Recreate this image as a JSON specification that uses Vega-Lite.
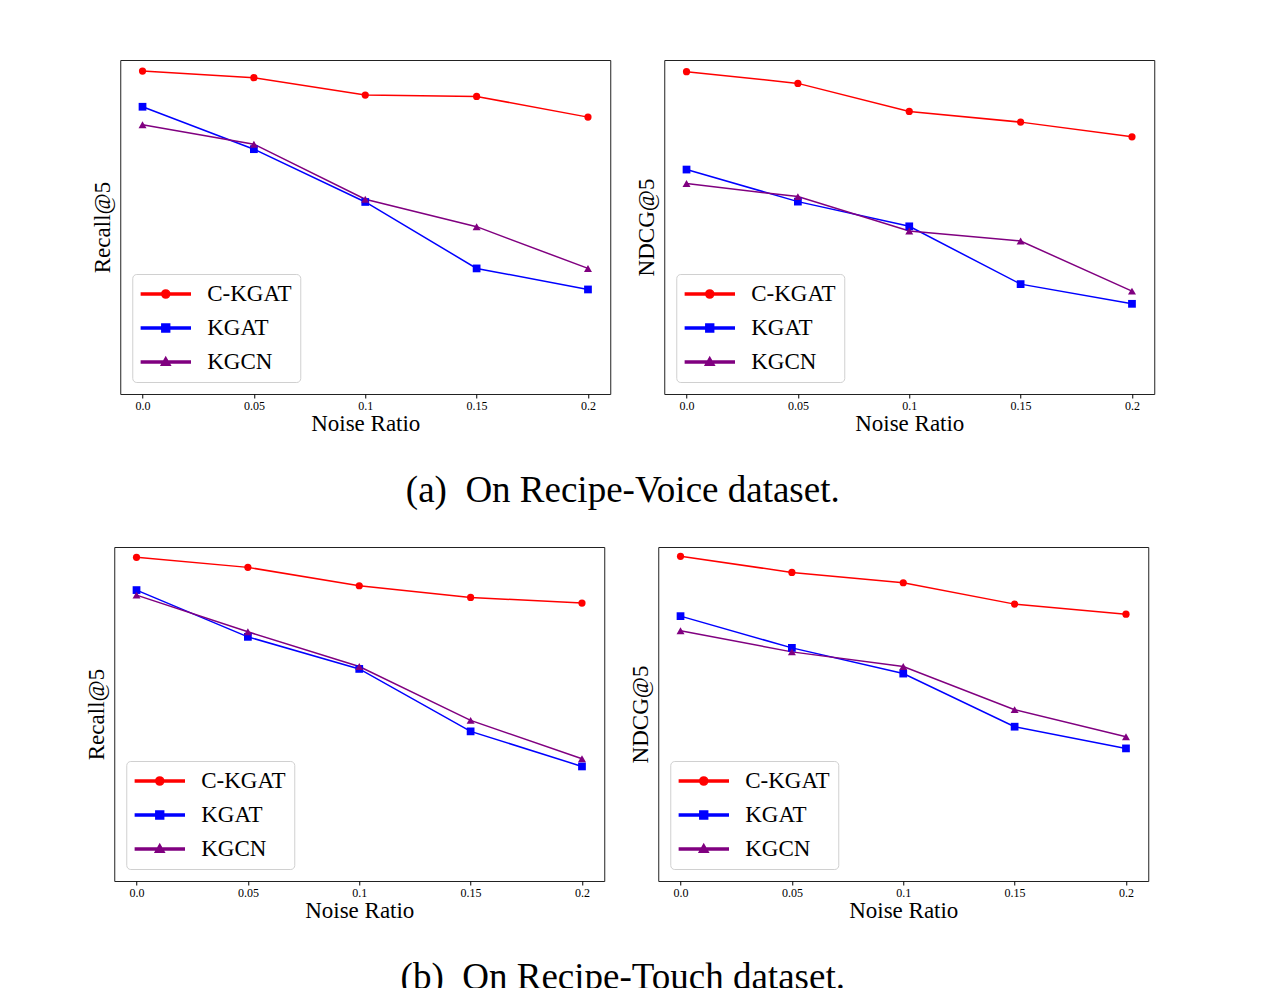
{
  "$schema": "https://vega.github.io/schema/vega-lite/v6.json",
  "background": "white",
  "padding": {"left": 84, "top": 59, "right": 20, "bottom": 0},
  "datasets": {
    "scores": [
      {"panel": "a1", "model": "C-KGAT", "ratio": 0.0, "score": 96.7},
      {"panel": "a1", "model": "C-KGAT", "ratio": 0.05, "score": 94.7},
      {"panel": "a1", "model": "C-KGAT", "ratio": 0.1, "score": 89.5},
      {"panel": "a1", "model": "C-KGAT", "ratio": 0.15, "score": 89.1},
      {"panel": "a1", "model": "C-KGAT", "ratio": 0.2, "score": 82.9},
      {"panel": "a1", "model": "KGAT", "ratio": 0.0, "score": 86.0},
      {"panel": "a1", "model": "KGAT", "ratio": 0.05, "score": 73.3},
      {"panel": "a1", "model": "KGAT", "ratio": 0.1, "score": 57.5},
      {"panel": "a1", "model": "KGAT", "ratio": 0.15, "score": 37.6},
      {"panel": "a1", "model": "KGAT", "ratio": 0.2, "score": 31.3},
      {"panel": "a1", "model": "KGCN", "ratio": 0.0, "score": 80.6},
      {"panel": "a1", "model": "KGCN", "ratio": 0.05, "score": 74.8},
      {"panel": "a1", "model": "KGCN", "ratio": 0.1, "score": 58.3},
      {"panel": "a1", "model": "KGCN", "ratio": 0.15, "score": 50.1},
      {"panel": "a1", "model": "KGCN", "ratio": 0.2, "score": 37.6},
      {"panel": "a2", "model": "C-KGAT", "ratio": 0.0, "score": 96.5},
      {"panel": "a2", "model": "C-KGAT", "ratio": 0.05, "score": 93.0},
      {"panel": "a2", "model": "C-KGAT", "ratio": 0.1, "score": 84.6},
      {"panel": "a2", "model": "C-KGAT", "ratio": 0.15, "score": 81.4},
      {"panel": "a2", "model": "C-KGAT", "ratio": 0.2, "score": 77.0},
      {"panel": "a2", "model": "KGAT", "ratio": 0.0, "score": 67.2},
      {"panel": "a2", "model": "KGAT", "ratio": 0.05, "score": 57.6},
      {"panel": "a2", "model": "KGAT", "ratio": 0.1, "score": 50.2},
      {"panel": "a2", "model": "KGAT", "ratio": 0.15, "score": 32.9},
      {"panel": "a2", "model": "KGAT", "ratio": 0.2, "score": 27.0},
      {"panel": "a2", "model": "KGCN", "ratio": 0.0, "score": 63.0},
      {"panel": "a2", "model": "KGCN", "ratio": 0.05, "score": 59.1},
      {"panel": "a2", "model": "KGCN", "ratio": 0.1, "score": 48.8},
      {"panel": "a2", "model": "KGCN", "ratio": 0.15, "score": 45.8},
      {"panel": "a2", "model": "KGCN", "ratio": 0.2, "score": 30.8},
      {"panel": "b1", "model": "C-KGAT", "ratio": 0.0, "score": 96.9},
      {"panel": "b1", "model": "C-KGAT", "ratio": 0.05, "score": 93.9},
      {"panel": "b1", "model": "C-KGAT", "ratio": 0.1, "score": 88.4},
      {"panel": "b1", "model": "C-KGAT", "ratio": 0.15, "score": 84.9},
      {"panel": "b1", "model": "C-KGAT", "ratio": 0.2, "score": 83.2},
      {"panel": "b1", "model": "KGAT", "ratio": 0.0, "score": 87.1},
      {"panel": "b1", "model": "KGAT", "ratio": 0.05, "score": 73.1},
      {"panel": "b1", "model": "KGAT", "ratio": 0.1, "score": 63.5},
      {"panel": "b1", "model": "KGAT", "ratio": 0.15, "score": 44.8},
      {"panel": "b1", "model": "KGAT", "ratio": 0.2, "score": 34.3},
      {"panel": "b1", "model": "KGCN", "ratio": 0.0, "score": 85.6},
      {"panel": "b1", "model": "KGCN", "ratio": 0.05, "score": 74.6},
      {"panel": "b1", "model": "KGCN", "ratio": 0.1, "score": 64.2},
      {"panel": "b1", "model": "KGCN", "ratio": 0.15, "score": 48.1},
      {"panel": "b1", "model": "KGCN", "ratio": 0.2, "score": 36.6},
      {"panel": "b2", "model": "C-KGAT", "ratio": 0.0, "score": 97.2},
      {"panel": "b2", "model": "C-KGAT", "ratio": 0.05, "score": 92.4},
      {"panel": "b2", "model": "C-KGAT", "ratio": 0.1, "score": 89.3},
      {"panel": "b2", "model": "C-KGAT", "ratio": 0.15, "score": 82.9},
      {"panel": "b2", "model": "C-KGAT", "ratio": 0.2, "score": 79.9},
      {"panel": "b2", "model": "KGAT", "ratio": 0.0, "score": 79.3},
      {"panel": "b2", "model": "KGAT", "ratio": 0.05, "score": 69.8},
      {"panel": "b2", "model": "KGAT", "ratio": 0.1, "score": 62.1},
      {"panel": "b2", "model": "KGAT", "ratio": 0.15, "score": 46.2},
      {"panel": "b2", "model": "KGAT", "ratio": 0.2, "score": 39.7},
      {"panel": "b2", "model": "KGCN", "ratio": 0.0, "score": 74.9},
      {"panel": "b2", "model": "KGCN", "ratio": 0.05, "score": 68.6},
      {"panel": "b2", "model": "KGCN", "ratio": 0.1, "score": 64.2},
      {"panel": "b2", "model": "KGCN", "ratio": 0.15, "score": 51.3},
      {"panel": "b2", "model": "KGCN", "ratio": 0.2, "score": 43.2}
    ]
  },
  "data": {"name": "scores"},
  "spacing": 37,
  "center": true,
  "resolve": {
    "scale": {"color": "independent", "shape": "independent"},
    "legend": {"color": "independent", "shape": "independent"}
  },
  "vconcat": [
    {
      "title": {"text": "(a)\u2002On Recipe-Voice dataset.", "orient": "bottom", "anchor": "middle", "offset": 37},
      "spacing": 23,
      "resolve": {
        "scale": {"color": "independent", "shape": "independent"},
        "legend": {"color": "independent", "shape": "independent"}
      },
      "hconcat": [
        {
          "width": 490, "height": 334,
          "transform": [{"filter": "datum.panel === 'a1'"}],
          "encoding": {
            "x": {"field": "ratio", "type": "quantitative", "title": "Noise Ratio", "scale": {"domain": [-0.01, 0.21], "nice": false, "zero": false}, "axis": {"values": [0, 0.05, 0.1, 0.15, 0.2]}},
            "y": {"field": "score", "type": "quantitative", "title": "Recall@5", "scale": {"domain": [0, 100], "nice": false}},
            "color": {"field": "model", "type": "nominal", "title": null, "scale": {"domain": ["C-KGAT", "KGAT", "KGCN"], "range": ["#ff0000", "#0000ff", "#800080"]}}
          },
          "layer": [
            {"mark": {"type": "line", "strokeWidth": 1.5}},
            {"transform": [{"filter": "datum.model === 'C-KGAT'"}], "mark": {"type": "point", "shape": "circle", "filled": true, "opacity": 1, "size": 52}},
            {"transform": [{"filter": "datum.model === 'KGAT'"}], "mark": {"type": "point", "shape": "square", "filled": true, "opacity": 1, "size": 60}},
            {"transform": [{"filter": "datum.model === 'KGCN'"}], "mark": {"type": "point", "shape": "triangle-up", "filled": true, "opacity": 1, "size": 64}},
            {"transform": [{"filter": "false"}], "mark": {"type": "point", "filled": true, "opacity": 1},
             "encoding": {"shape": {"field": "model", "type": "nominal", "title": null, "scale": {"domain": ["C-KGAT", "KGAT", "KGCN"], "range": ["M-1,-0.04H1V0.04H-1ZM0.165,0A0.165,0.165,0,1,1,-0.165,0A0.165,0.165,0,1,1,0.165,0Z", "M-1,-0.04H1V0.04H-1ZM-0.16,-0.16H0.16V0.16H-0.16Z", "M-1,-0.04H1V0.04H-1ZM0,-0.19L0.185,0.13H-0.185Z"]}}}}
          ]
        },
        {
          "width": 490, "height": 334,
          "transform": [{"filter": "datum.panel === 'a2'"}],
          "encoding": {
            "x": {"field": "ratio", "type": "quantitative", "title": "Noise Ratio", "scale": {"domain": [-0.01, 0.21], "nice": false, "zero": false}, "axis": {"values": [0, 0.05, 0.1, 0.15, 0.2]}},
            "y": {"field": "score", "type": "quantitative", "title": "NDCG@5", "scale": {"domain": [0, 100], "nice": false}},
            "color": {"field": "model", "type": "nominal", "title": null, "scale": {"domain": ["C-KGAT", "KGAT", "KGCN"], "range": ["#ff0000", "#0000ff", "#800080"]}}
          },
          "layer": [
            {"mark": {"type": "line", "strokeWidth": 1.5}},
            {"transform": [{"filter": "datum.model === 'C-KGAT'"}], "mark": {"type": "point", "shape": "circle", "filled": true, "opacity": 1, "size": 52}},
            {"transform": [{"filter": "datum.model === 'KGAT'"}], "mark": {"type": "point", "shape": "square", "filled": true, "opacity": 1, "size": 60}},
            {"transform": [{"filter": "datum.model === 'KGCN'"}], "mark": {"type": "point", "shape": "triangle-up", "filled": true, "opacity": 1, "size": 64}},
            {"transform": [{"filter": "false"}], "mark": {"type": "point", "filled": true, "opacity": 1},
             "encoding": {"shape": {"field": "model", "type": "nominal", "title": null, "scale": {"domain": ["C-KGAT", "KGAT", "KGCN"], "range": ["M-1,-0.04H1V0.04H-1ZM0.165,0A0.165,0.165,0,1,1,-0.165,0A0.165,0.165,0,1,1,0.165,0Z", "M-1,-0.04H1V0.04H-1ZM-0.16,-0.16H0.16V0.16H-0.16Z", "M-1,-0.04H1V0.04H-1ZM0,-0.19L0.185,0.13H-0.185Z"]}}}}
          ]
        }
      ]
    },
    {
      "title": {"text": "(b)\u2002On Recipe-Touch dataset.", "orient": "bottom", "anchor": "middle", "offset": 37},
      "spacing": 23,
      "resolve": {
        "scale": {"color": "independent", "shape": "independent"},
        "legend": {"color": "independent", "shape": "independent"}
      },
      "hconcat": [
        {
          "width": 490, "height": 334,
          "transform": [{"filter": "datum.panel === 'b1'"}],
          "encoding": {
            "x": {"field": "ratio", "type": "quantitative", "title": "Noise Ratio", "scale": {"domain": [-0.01, 0.21], "nice": false, "zero": false}, "axis": {"values": [0, 0.05, 0.1, 0.15, 0.2]}},
            "y": {"field": "score", "type": "quantitative", "title": "Recall@5", "scale": {"domain": [0, 100], "nice": false}},
            "color": {"field": "model", "type": "nominal", "title": null, "scale": {"domain": ["C-KGAT", "KGAT", "KGCN"], "range": ["#ff0000", "#0000ff", "#800080"]}}
          },
          "layer": [
            {"mark": {"type": "line", "strokeWidth": 1.5}},
            {"transform": [{"filter": "datum.model === 'C-KGAT'"}], "mark": {"type": "point", "shape": "circle", "filled": true, "opacity": 1, "size": 52}},
            {"transform": [{"filter": "datum.model === 'KGAT'"}], "mark": {"type": "point", "shape": "square", "filled": true, "opacity": 1, "size": 60}},
            {"transform": [{"filter": "datum.model === 'KGCN'"}], "mark": {"type": "point", "shape": "triangle-up", "filled": true, "opacity": 1, "size": 64}},
            {"transform": [{"filter": "false"}], "mark": {"type": "point", "filled": true, "opacity": 1},
             "encoding": {"shape": {"field": "model", "type": "nominal", "title": null, "scale": {"domain": ["C-KGAT", "KGAT", "KGCN"], "range": ["M-1,-0.04H1V0.04H-1ZM0.165,0A0.165,0.165,0,1,1,-0.165,0A0.165,0.165,0,1,1,0.165,0Z", "M-1,-0.04H1V0.04H-1ZM-0.16,-0.16H0.16V0.16H-0.16Z", "M-1,-0.04H1V0.04H-1ZM0,-0.19L0.185,0.13H-0.185Z"]}}}}
          ]
        },
        {
          "width": 490, "height": 334,
          "transform": [{"filter": "datum.panel === 'b2'"}],
          "resolve": {"axis": {"y": "independent"}},
          "encoding": {
            "x": {"field": "ratio", "type": "quantitative", "title": "Noise Ratio", "scale": {"domain": [-0.01, 0.21], "nice": false, "zero": false}, "axis": {"values": [0, 0.05, 0.1, 0.15, 0.2]}},
            "color": {"field": "model", "type": "nominal", "title": null, "scale": {"domain": ["C-KGAT", "KGAT", "KGCN"], "range": ["#ff0000", "#0000ff", "#800080"]}}
          },
          "layer": [
            {
              "encoding": {"y": {"field": "score", "type": "quantitative", "title": "NDCG@5", "scale": {"domain": [0, 100], "nice": false}}},
              "layer": [
                {"mark": {"type": "line", "strokeWidth": 1.5}},
                {"transform": [{"filter": "datum.model === 'C-KGAT'"}], "mark": {"type": "point", "shape": "circle", "filled": true, "opacity": 1, "size": 52}},
                {"transform": [{"filter": "datum.model === 'KGAT'"}], "mark": {"type": "point", "shape": "square", "filled": true, "opacity": 1, "size": 60}},
                {"transform": [{"filter": "datum.model === 'KGCN'"}], "mark": {"type": "point", "shape": "triangle-up", "filled": true, "opacity": 1, "size": 64}}
              ]
            },
            {"transform": [{"filter": "false"}], "mark": {"type": "point", "filled": true, "opacity": 1},
             "encoding": {
               "y": {"field": "score", "type": "quantitative", "scale": {"domain": [0, 100], "nice": false}, "axis": {"orient": "right", "title": "x", "titleFontSize": 8, "titleOpacity": 0, "titlePadding": 4}},
               "shape": {"field": "model", "type": "nominal", "title": null, "scale": {"domain": ["C-KGAT", "KGAT", "KGCN"], "range": ["M-1,-0.04H1V0.04H-1ZM0.165,0A0.165,0.165,0,1,1,-0.165,0A0.165,0.165,0,1,1,0.165,0Z", "M-1,-0.04H1V0.04H-1ZM-0.16,-0.16H0.16V0.16H-0.16Z", "M-1,-0.04H1V0.04H-1ZM0,-0.19L0.185,0.13H-0.185Z"]}}}}
          ]
        }
      ]
    }
  ],
  "config": {
    "font": "Liberation Serif",
    "view": {"stroke": "#222222", "strokeWidth": 1},
    "title": {"font": "Liberation Serif", "fontSize": 37, "fontWeight": "normal", "color": "black"},
    "axisX": {
      "labelExpr": "datum.value === 0 ? '0.0' : format(datum.value, '.2~f')",
      "labelFont": "Liberation Serif", "labelFontSize": 12, "labelColor": "black", "labelPadding": 2,
      "tickColor": "black", "tickSize": 4, "tickWidth": 1,
      "domain": false, "grid": false,
      "titleFont": "Liberation Serif", "titleFontSize": 23, "titleFontWeight": "normal", "titleColor": "black", "titlePadding": 1
    },
    "axisY": {
      "labels": false, "ticks": false, "domain": false, "grid": false,
      "titleFont": "Liberation Serif", "titleFontSize": 23, "titleFontWeight": "normal", "titleColor": "black", "titlePadding": 6
    },
    "legend": {
      "orient": "bottom-left", "offset": 12,
      "fillColor": "white", "strokeColor": "#d0d0d0", "cornerRadius": 4, "padding": 8,
      "labelFont": "Liberation Serif", "labelFontSize": 23, "labelColor": "black",
      "symbolSize": 2401, "labelOffset": 16, "rowPadding": 10, "clipHeight": 24
    }
  }
}
